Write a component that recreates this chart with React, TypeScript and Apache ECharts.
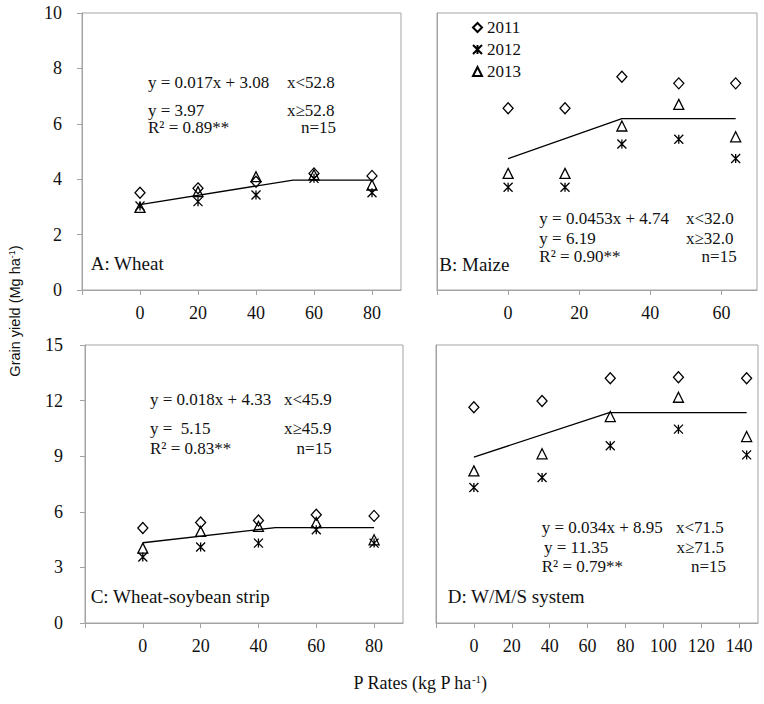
import React, { useEffect, useRef } from "react";
import * as echarts from "echarts";

// ---------- data ----------
const years = ["2011", "2012", "2013"];

const ratesA = [0, 20, 40, 60, 80];
const wheat2011 = [3.51, 3.67, 3.91, 4.21, 4.12];
const wheat2012 = [3.03, 3.19, 3.43, 4.03, 3.51];
const wheat2013 = [2.98, 3.55, 4.09, 4.16, 3.79];
const wheatFit = [[0, 3.08], [52.8, 3.97], [80, 3.97]];

const ratesB = [0, 16, 32, 48, 64];
const maize2011 = [6.56, 6.56, 7.7, 7.46, 7.46];
const maize2012 = [3.71, 3.71, 5.27, 5.44, 4.75];
const maize2013 = [4.21, 4.21, 5.92, 6.7, 5.53];
const maizeFit = [[0, 4.74], [32.0, 6.19], [64, 6.19]];

const ratesC = [0, 20, 40, 60, 80];
const strip2011 = [5.13, 5.42, 5.53, 5.84, 5.78];
const strip2012 = [3.56, 4.1, 4.31, 5.03, 4.31];
const strip2013 = [4.04, 4.94, 5.21, 5.42, 4.49];
const stripFit = [[0, 4.33], [45.9, 5.15], [80, 5.15]];

const ratesD = [0, 36, 72, 108, 144];
const sys2011 = [11.64, 11.98, 13.21, 13.26, 13.21];
const sys2012 = [7.31, 7.85, 9.56, 10.46, 9.07];
const sys2013 = [8.21, 9.13, 11.14, 12.18, 10.06];
const sysFit = [[0, 8.95], [71.5, 11.35], [144, 11.35]];

// tick values / labels
const xTicksAC = [-20, 0, 20, 40, 60, 80];
const xLabelsAC = [0, 20, 40, 60, 80];
const xTicksB = [-20, 0, 20, 40, 60];
const xLabelsB = [0, 20, 40, 60];
const xTicksD = [-20, 0, 20, 40, 60, 80, 100, 120, 140];
const xLabelsD = [0, 20, 40, 60, 80, 100, 120, 140];

// ---------- styles ----------
const SERIF = "'Liberation Serif', 'Times New Roman', serif";
const SANS = "'Liberation Sans', Arial, sans-serif";
const GRAY = "#a3a3a3";
const TXT = "#111";
const STAR = "path://M0,0L10,10M10,0L0,10M5,0L5,10";
const symbols = ["diamond", STAR, "triangle"];
const symbolSizes: any[] = [[10, 11], 9, [10, 10]];

function zip(xs: number[], ys: number[]) {
  return xs.map((x, i) => [x, ys[i]]);
}

const panels = [
  { rates: ratesA, vals: [wheat2011, wheat2012, wheat2013], fit: wheatFit },
  { rates: ratesB, vals: [maize2011, maize2012, maize2013], fit: maizeFit },
  { rates: ratesC, vals: [strip2011, strip2012, strip2013], fit: stripFit },
  { rates: ratesD, vals: [sys2011, sys2012, sys2013], fit: sysFit },
];

function txt(text: string, x: number, y: number, opts: any = {}) {
  return {
    type: "text",
    x,
    y,
    style: {
      text,
      fill: TXT,
      font: `${opts.size || 17}px ${SERIF}`,
      align: opts.align || "left",
      verticalAlign: "middle",
    },
  };
}

export default function App() {
  const ref = useRef<HTMLDivElement>(null);
  useEffect(() => {
    if (!ref.current) return;
    const chart = echarts.init(ref.current, null, { renderer: "svg" });

    const grids = [
      { left: 82, top: 13, width: 319, height: 277 },
      { left: 437, top: 13, width: 320, height: 277 },
      { left: 85, top: 345, width: 318, height: 278 },
      { left: 436, top: 345, width: 322, height: 278 },
    ].map((g) => ({ ...g, show: true, borderColor: GRAY, borderWidth: 1, backgroundColor: "transparent" }));

    const xSpec = [
      { max: 90, ticks: xTicksAC, labels: xLabelsAC },
      { max: 70, ticks: xTicksB, labels: xLabelsB },
      { max: 90, ticks: xTicksAC, labels: xLabelsAC },
      { max: 150, ticks: xTicksD, labels: xLabelsD },
    ];
    const xAxis = xSpec.map((s, i) => ({
      type: "value",
      gridIndex: i,
      min: -20,
      max: s.max,
      interval: 20,
      splitLine: { show: false },
      axisLine: { show: true, onZero: false, lineStyle: { color: GRAY, width: 1 } },
      axisTick: { show: true, length: 5, customValues: s.ticks, lineStyle: { color: GRAY, width: 1 } },
      axisLabel: { customValues: s.labels, margin: 14, color: TXT, fontFamily: SERIF, fontSize: 18 },
    }));

    const ySpec = [
      { max: 10, interval: 2, show: true, margin: 20 },
      { max: 10, interval: 2, show: false, margin: 20 },
      { max: 15, interval: 3, show: true, margin: 22 },
      { max: 15, interval: 3, show: false, margin: 22 },
    ];
    const yAxis = ySpec.map((s, i) => ({
      type: "value",
      gridIndex: i,
      min: 0,
      max: s.max,
      interval: s.interval,
      splitLine: { show: false },
      axisLine: { show: true, onZero: false, lineStyle: { color: GRAY, width: 1 } },
      axisTick: { show: s.show, length: 5, lineStyle: { color: GRAY, width: 1 } },
      axisLabel: { show: s.show, margin: s.margin, color: TXT, fontFamily: SERIF, fontSize: 18 },
    }));

    const series: any[] = [];
    panels.forEach((p, gi) => {
      series.push({
        type: "line",
        xAxisIndex: gi,
        yAxisIndex: gi,
        data: p.fit,
        showSymbol: false,
        symbol: "none",
        lineStyle: { color: "#000", width: 1.3 },
        z: 1,
        silent: true,
      });
      years.forEach((yr, k) => {
        series.push({
          type: "scatter",
          name: yr,
          xAxisIndex: gi,
          yAxisIndex: gi,
          data: zip(p.rates, p.vals[k]),
          symbol: symbols[k],
          symbolSize: symbolSizes[k],
          itemStyle: { color: "rgba(0,0,0,0)", borderColor: "#000", borderWidth: 1.3, opacity: 1 },
          z: 3,
        });
      });
    });

    const graphic: any[] = [
      // Panel A
      txt("y = 0.017x + 3.08", 148, 82),
      txt("x<52.8", 287, 82),
      txt("y = 3.97", 148, 110),
      txt("x\u226552.8", 287, 110),
      txt("R\u00b2 = 0.89**", 148, 127.8),
      txt("n=15", 336, 127.8, { align: "right" }),
      txt("A: Wheat", 90.7, 263.5, { size: 19 }),
      // Panel B
      txt("y = 0.0453x + 4.74", 539.3, 218.3),
      txt("x<32.0", 686, 218.3),
      txt("y = 6.19", 539.3, 238.3),
      txt("x\u226532.0", 686, 238.3),
      txt("R\u00b2 = 0.90**", 539.3, 256.3),
      txt("n=15", 736.7, 256.3, { align: "right" }),
      txt("B: Maize", 439.3, 264.3, { size: 19 }),
      // Panel C
      txt("y = 0.018x + 4.33", 150, 399),
      txt("x<45.9", 284, 399),
      txt("y =  5.15", 150, 428.3),
      txt("x\u226545.9", 284, 428.3),
      txt("R\u00b2 = 0.83**", 150, 448.3),
      txt("n=15", 331.7, 448.3, { align: "right" }),
      txt("C: Wheat-soybean strip", 90.7, 596, { size: 19 }),
      // Panel D
      txt("y = 0.034x + 8.95", 541.7, 527.7),
      txt("x<71.5", 676, 527.7),
      txt("y = 11.35", 544, 547.3),
      txt("x\u226571.5", 676.5, 547.3),
      txt("R\u00b2 = 0.79**", 541.7, 566.7),
      txt("n=15", 726, 566.7, { align: "right" }),
      txt("D: W/M/S system", 447.7, 596.7, { size: 19 }),
      // axis titles
      {
        type: "text",
        x: 420,
        y: 682.7,
        style: {
          text: "P Rates (kg P ha{sup|-1})",
          fill: TXT,
          font: `18px ${SERIF}`,
          align: "center",
          verticalAlign: "middle",
          rich: { sup: { fontSize: 11, fontFamily: SERIF, verticalAlign: "top", fill: TXT } },
        },
      },
      {
        type: "text",
        x: 15,
        y: 311,
        rotation: Math.PI / 2,
        style: {
          text: "Grain yield (Mg ha{sup|-1})",
          fill: TXT,
          font: `14.5px ${SANS}`,
          align: "center",
          verticalAlign: "middle",
          rich: { sup: { fontSize: 9, fontFamily: SANS, verticalAlign: "top", fill: TXT } },
        },
      },
    ];

    chart.setOption({
      animation: false,
      backgroundColor: "#fff",
      grid: grids,
      xAxis,
      yAxis,
      series,
      legend: {
        data: years,
        orient: "vertical",
        left: 467,
        top: 14,
        itemWidth: 9,
        itemHeight: 9,
        itemGap: 5,
        selectedMode: false,
        textStyle: { fontFamily: SERIF, fontSize: 17, color: TXT },
      },
      graphic,
    });
    return () => chart.dispose();
  }, []);
  return <div ref={ref} style={{ position: "absolute", left: 0, top: 0, width: 764, height: 704 }} />;
}
